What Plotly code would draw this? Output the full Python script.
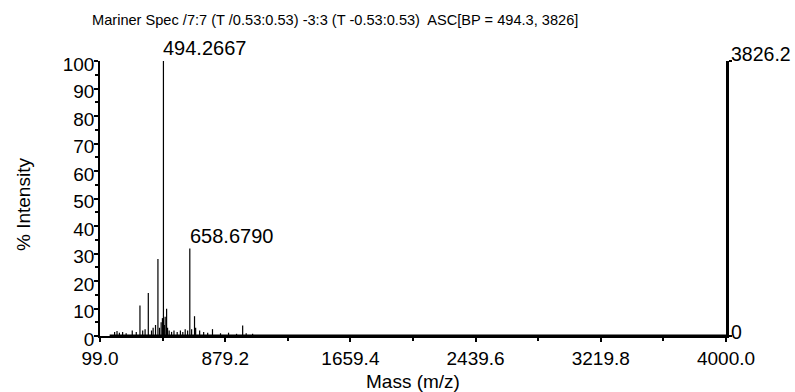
import plotly.graph_objects as go

# ---- data ----
peak_mz = [190, 205, 220, 240, 262, 300, 325, 348, 365, 380, 400, 420, 430, 445,
           460, 470, 480, 488, 494.2667, 500, 505, 514, 520, 530, 545, 560, 580,
           600, 615, 630, 645, 658.679, 670, 688, 695, 720, 745, 770, 800, 850,
           900, 950, 988, 1010, 1050]
peak_int = [1.5, 1.8, 1.2, 1.5, 1.0, 2.0, 1.5, 11.1, 2.0, 2.5, 15.6, 2.0, 3.0, 4.0,
            28.0, 3.0, 5.0, 6.5, 100.0, 4.0, 7.0, 9.9, 3.0, 2.0, 1.5, 2.0, 1.5,
            2.0, 1.5, 2.5, 2.0, 31.8, 2.5, 7.2, 3.0, 2.0, 1.5, 1.2, 2.5, 1.0,
            1.2, 0.8, 3.8, 1.0, 0.8]
labels_mz = [494.2667, 658.679]
labels_txt = ["494.2667", "658.6790"]
labels_int = [100.0, 31.8]
x_ticks = [99.0, 879.2, 1659.4, 2439.6, 3219.8, 4000.0]
y_ticks = [0, 10, 20, 30, 40, 50, 60, 70, 80, 90, 100]
right_ticks = [0, 3826.2]
right_labels = ["0", "3826.2"]
title_text = "Mariner Spec /7:7 (T /0.53:0.53) -3:3 (T -0.53:0.53)  ASC[BP = 494.3, 3826]"

# stick spectrum built from the arrays
xs, ys = [], []
for m, h in zip(peak_mz, peak_int):
    xs += [m, m, None]
    ys += [0, h, None]

FONT = "Arial, Liberation Sans, sans-serif"
W, H = 795, 392
L, R, T, B = 100, 69, 61, 56
pw, ph = W - L - R, H - T - B

fig = go.Figure()
fig.add_trace(go.Scatter(x=xs, y=ys, mode="lines",
                         line=dict(color="black", width=1.2),
                         hoverinfo="skip", showlegend=False))
# baseline noise line
fig.add_trace(go.Scatter(x=[x_ticks[0] + 60, x_ticks[-1]], y=[0.3, 0.3], mode="lines",
                         line=dict(color="black", width=1.5),
                         hoverinfo="skip", showlegend=False))
# invisible trace on secondary axis
fig.add_trace(go.Scatter(x=[x_ticks[-1]], y=[0], yaxis="y2", mode="markers",
                         marker=dict(opacity=0), hoverinfo="skip", showlegend=False))

annotations = []
def py(px):  # paper y from pixel y
    return 1 - (px - T) / ph
def pxp(px):  # paper x from pixel x
    return (px - L) / pw

for m, t, h in zip(labels_mz, labels_txt, labels_int):
    annotations.append(dict(x=m, y=h, xref="x", yref="y", text=t, showarrow=False,
                            xanchor="left", yanchor="bottom", yshift=0, xshift=-2,
                            font=dict(family=FONT, size=20, color="black")))
# right-axis labels (drawn slightly offset like the reference)
for v, t, dy in zip(right_ticks, right_labels, [-4, -7]):
    annotations.append(dict(x=1, y=v, xref="paper", yref="y2", text=t, showarrow=False,
                            xanchor="left", yanchor="middle", xshift=3, yshift=-dy,
                            font=dict(family=FONT, size=19.5, color="black")))
annotations.append(dict(x=pxp(90), y=py(20), xref="paper", yref="paper", text=title_text,
                        showarrow=False, xanchor="left", yanchor="middle",
                        font=dict(family=FONT, size=14.6, color="black")))
annotations.append(dict(x=pxp(413), y=py(381), xref="paper", yref="paper", text="Mass (m/z)",
                        showarrow=False, xanchor="center", yanchor="middle",
                        font=dict(family=FONT, size=19, color="black")))
annotations.append(dict(x=pxp(23), y=py(205), xref="paper", yref="paper", text="% Intensity",
                        showarrow=False, xanchor="center", yanchor="middle", textangle=-90,
                        font=dict(family=FONT, size=19, color="black")))

fig.update_layout(
    width=W, height=H,
    margin=dict(l=L, r=R, t=T, b=B, pad=0),
    paper_bgcolor="white", plot_bgcolor="white",
    font=dict(family=FONT, size=19, color="black"),
    xaxis=dict(range=[x_ticks[0], x_ticks[-1]], tickvals=x_ticks,
               ticktext=[f"{v:.1f}" for v in x_ticks],
               showgrid=False, zeroline=False, showline=True, linecolor="black", linewidth=1.5,
               ticks="outside", ticklen=4, tickwidth=1.5, tickcolor="black",
               ticklabelstandoff=0,
               minor=dict(ticks="outside", ticklen=3, tickwidth=1.5, tickcolor="black",
                          tickvals=[(a + b) / 2 for a, b in zip(x_ticks[:-1], x_ticks[1:])]),
               tickfont=dict(family=FONT, size=19)),
    yaxis=dict(range=[0, 100], tickvals=y_ticks, showgrid=False, zeroline=False,
               showline=True, linecolor="black", linewidth=1.5,
               ticks="outside", ticklen=4, tickwidth=1.5, tickcolor="black",
               ticklabelstandoff=-4, ticklabelshift=3,
               minor=dict(ticks="outside", ticklen=3, tickwidth=1.5, tickcolor="black",
                          tickvals=[v + 5 for v in y_ticks[:-1]]),
               tickfont=dict(family=FONT, size=19)),
    yaxis2=dict(range=[0, right_ticks[-1]], overlaying="y", side="right", anchor="x",
                tickvals=right_ticks, showticklabels=False,
                showgrid=False, zeroline=False, showline=True, linecolor="black", linewidth=2.5,
                ticks="outside", ticklen=3, tickwidth=1.5, tickcolor="black"),
    annotations=annotations,
)

fig.write_html("out.html")
